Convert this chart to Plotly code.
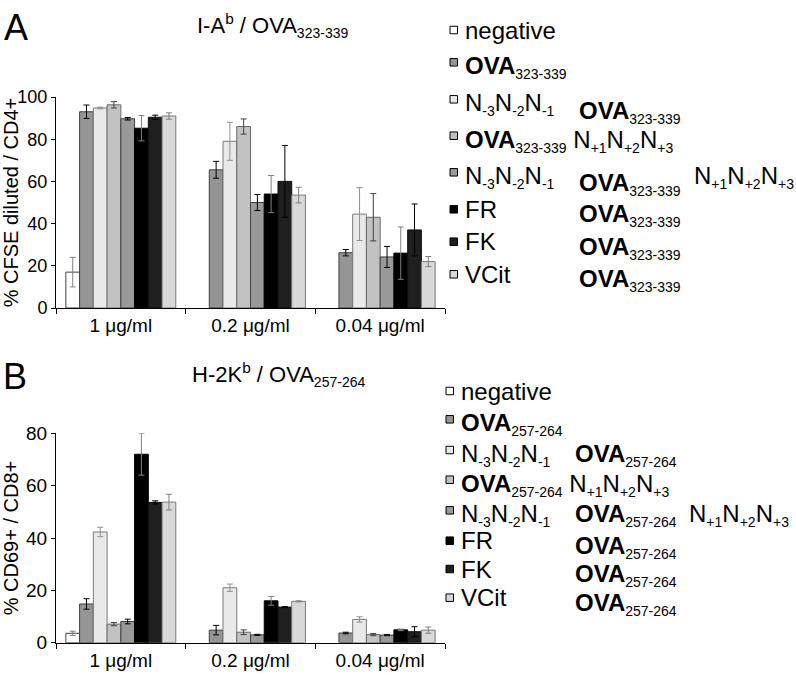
import plotly.graph_objects as go

# ---------------- data ----------------
categories = ["1 μg/ml", "0.2 μg/ml", "0.04 μg/ml"]
series = ["negative", "OVA", "N-3N-2N-1 OVA", "OVA N+1N+2N+3",
          "N-3N-2N-1 OVA N+1N+2N+3", "FR OVA", "FK OVA", "VCit OVA"]

# Panel A: % CFSE diluted / CD4+
a_negative = [17, None, None]
a_ova = [93, 65.5, 26.2]
a_nm = [94.8, 79, 44.5]
a_np = [96.3, 86, 43]
a_nmnp = [89.7, 50, 24.2]
a_fr = [85.2, 54, 26]
a_fk = [90.4, 60, 37]
a_vcit = [91, 53.5, 22]

a_negative_err = [7, None, None]
a_ova_err = [3.2, 4, 1.5]
a_nm_err = [0.4, 9, 12.5]
a_np_err = [1.5, 3.6, 11.2]
a_nmnp_err = [0.6, 3.8, 5]
a_fr_err = [6, 8.8, 12.4]
a_fk_err = [1, 17, 12.3]
a_vcit_err = [1.5, 3.7, 2.4]

# Panel B: % CD69+ / CD8+
b_negative = [3.6, None, None]
b_ova = [14.8, 4.8, 3.7]
b_nm = [42.3, 21, 8.9]
b_np = [7.1, 4, 3.1]
b_nmnp = [8.1, 3, 2.9]
b_fr = [72, 16, 4.9]
b_fk = [53.6, 13.6, 4.2]
b_vcit = [53.7, 15.8, 4.8]

b_negative_err = [0.8, None, None]
b_ova_err = [2, 1.8, 0.3]
b_nm_err = [1.8, 1.4, 1]
b_np_err = [0.6, 0.9, 0.4]
b_nmnp_err = [0.9, 0.2, 0.2]
b_fr_err = [8, 1.7, 0.3]
b_fk_err = [0.6, 0.2, 1.9]
b_vcit_err = [3, 0.2, 1.2]

a_ticks = [0, 20, 40, 60, 80, 100]
b_ticks = [0, 20, 40, 60, 80]

# ---------------- styles ----------------
fills = ["#ffffff", "#959595", "#e9e9e9", "#c2c2c2", "#999999", "#000000", "#1f1f1f", "#d8d8d8"]
edges = ["#404040", "#404040", "#7a7a7a", "#6a6a6a", "#404040", "#000000", "#101010", "#7a7a7a"]
errc = ["#808080", "#000000", "#909090", "#404040", "#000000", "#808080", "#000000", "#808080"]

FONT = "Liberation Sans, Arial, sans-serif"
W, H = 796, 676


def px(x):
    return x / W


def py(y):
    return 1 - y / H


A_vals = [a_negative, a_ova, a_nm, a_np, a_nmnp, a_fr, a_fk, a_vcit]
A_errs = [a_negative_err, a_ova_err, a_nm_err, a_np_err, a_nmnp_err, a_fr_err, a_fk_err, a_vcit_err]
B_vals = [b_negative, b_ova, b_nm, b_np, b_nmnp, b_fr, b_fk, b_vcit]
B_errs = [b_negative_err, b_ova_err, b_nm_err, b_np_err, b_nmnp_err, b_fr_err, b_fk_err, b_vcit_err]

fig = go.Figure()
for i in range(8):
    fig.add_trace(go.Bar(
        x=categories, y=A_vals[i], name=series[i], xaxis="x", yaxis="y",
        marker=dict(color=fills[i], line=dict(color=edges[i], width=1)),
        error_y=dict(type="data", array=A_errs[i], color=errc[i], thickness=1, width=3),
        showlegend=False, offsetgroup=str(i)))
    fig.add_trace(go.Bar(
        x=categories, y=B_vals[i], name=series[i], xaxis="x2", yaxis="y2",
        marker=dict(color=fills[i], line=dict(color=edges[i], width=1)),
        error_y=dict(type="data", array=B_errs[i], color=errc[i], thickness=1, width=3),
        showlegend=False, offsetgroup=str(i)))

xdom = [px(56), px(445)]
axis_common = dict(showline=True, linecolor="#000", linewidth=1, showgrid=False,
                   zeroline=False, ticks="outside", tickcolor="#000", automargin=False)

fig.update_layout(
    width=W, height=H, margin=dict(l=0, r=0, t=0, b=0, autoexpand=False),
    paper_bgcolor="white", plot_bgcolor="white",
    barmode="group", bargap=0.152, bargroupgap=0,
    font=dict(family=FONT, color="#000"),
    xaxis=dict(domain=xdom, anchor="y", type="category", tickson="boundaries",
               ticklen=5, tickfont=dict(size=19), range=[-0.5, 2.5], **axis_common),
    yaxis=dict(domain=[py(308), py(97)], anchor="x", range=[0, 100], tickvals=a_ticks,
               ticklen=4, tickfont=dict(size=18),
               title=dict(text="% CFSE diluted / CD4+", font=dict(size=20)),
               **axis_common),
    xaxis2=dict(domain=xdom, anchor="y2", type="category", tickson="boundaries",
                ticklen=5, tickfont=dict(size=19), range=[-0.5, 2.5], **axis_common),
    yaxis2=dict(domain=[py(642.7), py(433.3)], anchor="x2", range=[0, 80], tickvals=b_ticks,
                ticklen=4, tickfont=dict(size=19),
                title=dict(text="% CD69+ / CD8+", font=dict(size=20)),
                **axis_common),
)

SUB = "<sub><span style='font-size:14px'>%s</span></sub>"


def ova(code):
    return "<b>OVA</b>" + SUB % code


NM = "N" + SUB % "-3" + "N" + SUB % "-2" + "N" + SUB % "-1"
NP = "N" + SUB % "+1" + "N" + SUB % "+2" + "N" + SUB % "+3"

annotations = []
shapes = []

# panel letters and titles
annotations.append(dict(text="A", x=px(2), y=py(50), xref="paper", yref="paper",
                        xanchor="left", yanchor="bottom", showarrow=False, font=dict(size=36)))
annotations.append(dict(text="B", x=px(1), y=py(399), xref="paper", yref="paper",
                        xanchor="left", yanchor="bottom", showarrow=False, font=dict(size=36)))
annotations.append(dict(text="I-A<sup>b</sup> / OVA" + SUB % "323-339", x=px(195), y=py(25),
                        xref="paper", yref="paper", xanchor="left", yanchor="middle",
                        showarrow=False, font=dict(size=22)))
annotations.append(dict(text="H-2K<sup>b</sup> / OVA" + SUB % "257-264", x=px(190), y=py(374),
                        xref="paper", yref="paper", xanchor="left", yanchor="middle",
                        showarrow=False, font=dict(size=22)))


def legend(rows_y, code, box_x, col1_x, col2_x, col3_x, col2_drop):
    col1 = ["negative", ova(code), NM, ova(code) + " " + NP, NM, "FR", "FK", "VCit"]
    col2 = [None, None, ova(code), None, ova(code), ova(code), ova(code), ova(code)]
    col3 = [None, None, None, None, NP, None, None, None]
    for i, y in enumerate(rows_y):
        shapes.append(dict(type="rect", xref="paper", yref="paper",
                           x0=px(box_x), x1=px(box_x + 7.5), y0=py(y + 3.75), y1=py(y - 3.75),
                           fillcolor=fills[i], line=dict(color="#000", width=1)))
        for k, (txt, xx) in enumerate(((col1[i], col1_x), (col2[i], col2_x), (col3[i], col3_x))):
            if txt is None:
                continue
            shift = -5 if "<sub>" in txt else 0
            if k == 1:
                shift -= col2_drop[i]
            annotations.append(dict(text=txt, x=px(xx), y=py(y), xref="paper", yref="paper",
                                    xanchor="left", yanchor="middle", showarrow=False,
                                    yshift=shift, font=dict(size=24)))


legend([30, 62.3, 99.3, 135.7, 172.3, 209.3, 241.7, 274.3], "323-339", 450, 463, 577, 692,
       [0, 0, 8, 0, 7, 1, 1, 1])
legend([391, 419.3, 450, 479.7, 510.3, 540.7, 569, 597.7], "257-264", 446, 459, 573, 687,
       [0, 0, 0, 0, 0, 1, 1, 1])

fig.update_layout(annotations=annotations, shapes=shapes)
fig.write_html("out.html", config={"displayModeBar": False},
               post_script="document.body.style.margin='0';document.body.style.overflow='hidden';")
